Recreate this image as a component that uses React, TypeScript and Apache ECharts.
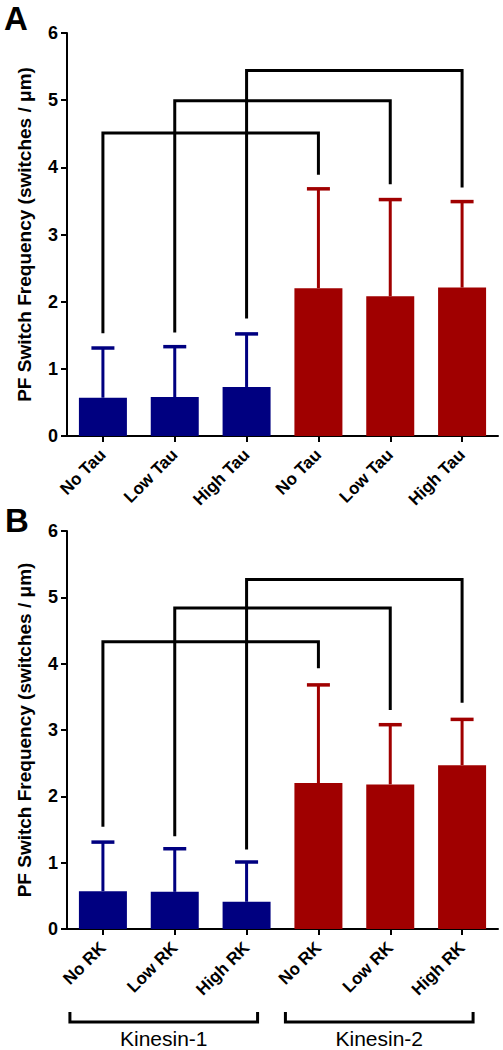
import React, { useEffect, useRef } from "react";
import * as echarts from "echarts";

const categoriesA = ["No Tau", "Low Tau", "High Tau", "No Tau", "Low Tau", "High Tau"];
const categoriesB = ["No RK", "Low RK", "High RK", "No RK", "Low RK", "High RK"];

const meansA = [0.57, 0.58, 0.73, 2.2, 2.08, 2.21];
const upperA = [1.31, 1.33, 1.52, 3.68, 3.52, 3.49];
const meansB = [0.57, 0.56, 0.41, 2.2, 2.18, 2.47];
const upperB = [1.31, 1.21, 1.01, 3.68, 3.08, 3.16];

// brackets: [leftIndex, rightIndex, topValue, leftBottomValue, rightBottomValue]
const bracketsA = [
  [0, 3, 4.51, 1.53, 3.89],
  [1, 4, 4.99, 1.54, 3.75],
  [2, 5, 5.44, 1.75, 3.7],
];
const bracketsB = [
  [0, 3, 4.33, 1.54, 3.93],
  [1, 4, 4.84, 1.4, 3.3],
  [2, 5, 5.27, 1.2, 3.41],
];

const groups = [
  [0, 2, "Kinesin-1"],
  [3, 5, "Kinesin-2"],
];

const yTicks = [0, 1, 2, 3, 4, 5, 6];
const yName = "PF Switch Frequency (switches / \u03bcm)";

const BLUE = "#000080";
const RED = "#a00000";
const barColors = [BLUE, BLUE, BLUE, RED, RED, RED];
const FONT = "'Liberation Sans', Arial, Helvetica, sans-serif";

function App() {
  const ref = useRef<HTMLDivElement>(null);

  useEffect(() => {
    if (!ref.current) return;
    const chart = echarts.init(ref.current, null, { renderer: "svg" });

    const yAxisBase = (gridIndex: number) => ({
      type: "value",
      gridIndex,
      min: yTicks[0],
      max: yTicks[yTicks.length - 1],
      interval: 1,
      name: yName,
      nameLocation: "middle",
      nameGap: 33,
      nameTextStyle: { fontSize: 19, fontWeight: "bold", color: "#000", fontFamily: FONT },
      axisLine: { show: true, lineStyle: { color: "#000", width: 2 } },
      axisTick: { show: true, length: 6, lineStyle: { color: "#000", width: 2 } },
      axisLabel: { fontSize: 18, fontWeight: "bold", color: "#000", margin: 9, fontFamily: FONT },
      splitLine: { show: false },
    });

    const xAxisBase = (gridIndex: number, data: string[]) => ({
      type: "category",
      gridIndex,
      data,
      axisLine: { show: true, lineStyle: { color: "#000", width: 2 } },
      axisTick: { show: true, alignWithLabel: true, length: 6, lineStyle: { color: "#000", width: 2 } },
      axisLabel: {
        rotate: 45,
        fontSize: 17,
        fontWeight: "bold",
        color: "#000",
        margin: 16,
        interval: 0,
        fontFamily: FONT,
      },
      splitLine: { show: false },
    });

    const barSeries = (idx: number, means: number[]) => ({
      type: "bar",
      xAxisIndex: idx,
      yAxisIndex: idx,
      barWidth: 48,
      data: means.map((v, i) => ({ value: v, itemStyle: { color: barColors[i] } })),
      z: 2,
    });

    const errorSeries = (idx: number, means: number[], upper: number[]) => ({
      type: "custom",
      xAxisIndex: idx,
      yAxisIndex: idx,
      z: 3,
      data: means.map((m, i) => [i, m, upper[i]]),
      encode: { x: 0, y: [1, 2] },
      renderItem: (params: any, api: any) => {
        const i = api.value(0);
        const base = api.coord([i, api.value(1)]);
        const top = api.coord([i, api.value(2)]);
        const color = barColors[i];
        const half = 11.5;
        return {
          type: "group",
          children: [
            {
              type: "line",
              shape: { x1: base[0], y1: base[1], x2: top[0], y2: top[1] },
              style: { stroke: color, lineWidth: 3 },
            },
            {
              type: "line",
              shape: { x1: top[0] - half, y1: top[1], x2: top[0] + half, y2: top[1] },
              style: { stroke: color, lineWidth: 3.5 },
            },
          ],
        };
      },
    });

    const bracketSeries = (idx: number, brackets: number[][]) => ({
      type: "custom",
      xAxisIndex: idx,
      yAxisIndex: idx,
      z: 4,
      data: brackets,
      encode: { x: [0, 1], y: [2, 3, 4] },
      renderItem: (params: any, api: any) => {
        const l = api.value(0);
        const r = api.value(1);
        const t = api.value(2);
        const lb = api.value(3);
        const rb = api.value(4);
        const p1 = api.coord([l, lb]);
        const p2 = api.coord([l, t]);
        const p3 = api.coord([r, t]);
        const p4 = api.coord([r, rb]);
        return {
          type: "polyline",
          shape: { points: [p1, p2, p3, p4] },
          style: { stroke: "#000", lineWidth: 3, fill: "none" },
        };
      },
    });

    const groupSeries = {
      type: "custom",
      xAxisIndex: 1,
      yAxisIndex: 1,
      clip: false,
      z: 5,
      data: groups,
      encode: { x: [0, 1] },
      renderItem: (params: any, api: any) => {
        const s = api.coord([api.value(0), 0]);
        const e = api.coord([api.value(1), 0]);
        const label = groups[params.dataIndex][2] as string;
        const x1 = s[0] - 33;
        const x2 = e[0] + 11;
        const yLine = s[1] + 93;
        const yTick = s[1] + 83;
        return {
          type: "group",
          children: [
            {
              type: "polyline",
              shape: { points: [[x1, yTick], [x1, yLine], [x2, yLine], [x2, yTick]] },
              style: { stroke: "#000", lineWidth: 3, fill: "none" },
            },
            {
              type: "text",
              x: (x1 + x2) / 2,
              y: yLine + 16,
              style: {
                text: label,
                fontSize: 21,
                fontFamily: FONT,
                fill: "#000",
                align: "center",
                verticalAlign: "middle",
              },
            },
          ],
        };
      },
    };

    chart.setOption({
      animation: false,
      backgroundColor: "#fff",
      textStyle: { fontFamily: FONT },
      grid: [
        { left: 67, right: 5, top: 33, height: 403 },
        { left: 67, right: 5, top: 531, height: 398 },
      ],
      xAxis: [xAxisBase(0, categoriesA), xAxisBase(1, categoriesB)],
      yAxis: [yAxisBase(0), yAxisBase(1)],
      graphic: [
        {
          type: "text",
          left: 4,
          top: 2,
          style: { text: "A", fontSize: 33, fontWeight: "bold", fill: "#000", fontFamily: FONT },
        },
        {
          type: "text",
          left: 5,
          top: 504,
          style: { text: "B", fontSize: 33, fontWeight: "bold", fill: "#000", fontFamily: FONT },
        },
      ],
      series: [
        barSeries(0, meansA),
        barSeries(1, meansB),
        errorSeries(0, meansA, upperA),
        errorSeries(1, meansB, upperB),
        bracketSeries(0, bracketsA),
        bracketSeries(1, bracketsB),
        groupSeries,
      ],
    });

    return () => chart.dispose();
  }, []);

  return (
    <div
      ref={ref}
      style={{ position: "absolute", left: 0, top: 0, width: 503, height: 1050, background: "#fff" }}
    />
  );
}

export default App;
